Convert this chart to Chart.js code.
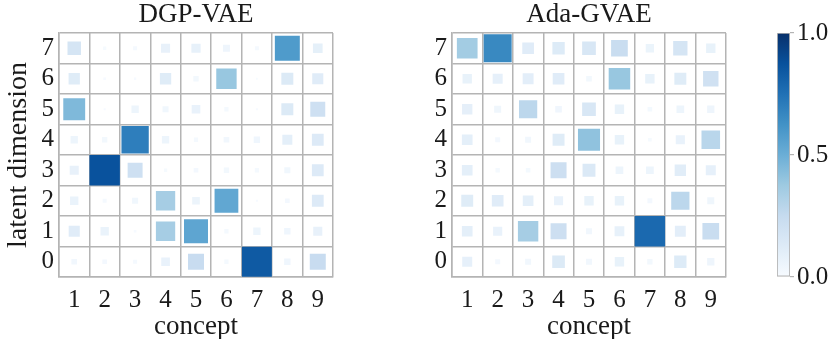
<!DOCTYPE html>
<html><head><meta charset="utf-8">
<script src="https://cdn.jsdelivr.net/npm/chart.js@4.4.1/dist/chart.umd.min.js"></script>
<style>
html,body{margin:0;padding:0;background:#fff;}
#wrap{position:relative;width:832px;height:339px;overflow:hidden;background:#fff;}
canvas{position:absolute;top:0;}
</style></head><body>
<div id="wrap">
<canvas id="c1" width="340" height="339" style="left:0px"></canvas>
<canvas id="c2" width="340" height="339" style="left:400px"></canvas>
<canvas id="c3" width="72" height="339" style="left:760px"></canvas>
</div>
<script>
// ---- data ----
const concepts = ['1','2','3','4','5','6','7','8','9'];
const latentDims = ['7','6','5','4','3','2','1','0'];
const panelTitles = ['DGP-VAE', 'Ada-GVAE'];
const xAxisLabel = 'concept';
const yAxisLabel = 'latent dimension';
const colorbarTicks = [0, 0.5, 1];

// rows: latent dimension 0..7, columns: concept 1..9
const dgpVae = [
  [0.030, 0.020, 0.015, 0.070, 0.240, 0.017, 0.840, 0.038, 0.240], // dim 0
  [0.115, 0.065, 0.007, 0.350, 0.540, 0.017, 0.050, 0.038, 0.077], // dim 1
  [0.065, 0.015, 0.034, 0.350, 0.055, 0.530, 0.004, 0.020, 0.130], // dim 2
  [0.077, 0.870, 0.210, 0.010, 0.020, 0.027, 0.017, 0.034, 0.130], // dim 3
  [0.050, 0.027, 0.700, 0.050, 0.017, 0.030, 0.038, 0.094, 0.130], // dim 4
  [0.450, 0.004, 0.050, 0.034, 0.070, 0.017, 0.004, 0.135, 0.210], // dim 5
  [0.120, 0.007, 0.005, 0.120, 0.027, 0.390, 0.003, 0.135, 0.115], // dim 6
  [0.170, 0.010, 0.015, 0.077, 0.080, 0.046, 0.015, 0.585, 0.088]  // dim 7
];
const adaGvae = [
  [0.084, 0.021, 0.030, 0.135, 0.030, 0.074, 0.024, 0.128, 0.045], // dim 0
  [0.096, 0.070, 0.350, 0.215, 0.030, 0.080, 0.780, 0.100, 0.235], // dim 1
  [0.120, 0.115, 0.096, 0.070, 0.074, 0.074, 0.020, 0.280, 0.041], // dim 2
  [0.096, 0.016, 0.018, 0.215, 0.140, 0.050, 0.050, 0.108, 0.084], // dim 3
  [0.096, 0.021, 0.030, 0.120, 0.410, 0.074, 0.011, 0.070, 0.290], // dim 4
  [0.090, 0.041, 0.280, 0.037, 0.158, 0.074, 0.018, 0.050, 0.045], // dim 5
  [0.074, 0.084, 0.100, 0.115, 0.027, 0.390, 0.074, 0.120, 0.200], // dim 6
  [0.360, 0.660, 0.115, 0.128, 0.158, 0.235, 0.058, 0.172, 0.074]  // dim 7
];

// ---- colormap (matplotlib Blues) ----
const bluesStops = ['#f7fbff','#deebf7','#c6dbef','#9ecae1','#6baed6','#4292c6','#2171b5','#08519c','#08306b'];
function hexToRgb(h){return [parseInt(h.slice(1,3),16),parseInt(h.slice(3,5),16),parseInt(h.slice(5,7),16)];}
const bluesRgb = bluesStops.map(hexToRgb);
function blues(v){
  v = Math.max(0, Math.min(1, v));
  const p = v * (bluesRgb.length - 1);
  const i = Math.min(Math.floor(p), bluesRgb.length - 2);
  const t = p - i;
  const a = bluesRgb[i], b = bluesRgb[i+1];
  return 'rgb(' + [0,1,2].map(k => Math.round(a[k] + (b[k]-a[k])*t)).join(',') + ')';
}

const FONT = '"Liberation Serif", "DejaVu Serif", serif';
const TXT = '#1a1a1a';
const GRID = '#b4b4b4';

function makePanel(canvasId, title, values, showYTitle, yWidth, padRight) {
  const points = [];
  let maxV = 0;
  values.forEach((row, d) => row.forEach((v, c) => {
    points.push({x: concepts[c], y: String(d), v: v});
    if (v > maxV) maxV = v;
  }));
  return new Chart(document.getElementById(canvasId), {
    type: 'scatter',
    data: { datasets: [{
      data: points,
      pointStyle: 'rect',
      borderWidth: 0,
      backgroundColor: ctx => ctx.raw ? blues(ctx.raw.v) : '#fff',
      pointRadius: ctx => {
        if (!ctx.raw) return 0;
        const xs = ctx.chart.scales.x;
        const cw = Math.abs(xs.getPixelForValue(1) - xs.getPixelForValue(0));
        return Math.sqrt(ctx.raw.v / maxV) * cw / Math.SQRT2;
      }
    }]},
    options: {
      responsive: false, animation: false, events: [],
      layout: { padding: { left: 0, right: padRight, top: 0, bottom: 0 } },
      plugins: {
        legend: { display: false }, tooltip: { enabled: false },
        title: { display: true, text: title, fullSize: false, color: TXT,
          font: { family: FONT, size: 27, weight: 'normal', lineHeight: 1 },
          padding: { top: 1, bottom: 5 } }
      },
      scales: {
        x: {
          type: 'category', labels: concepts, offset: true, position: 'bottom',
          grid: { offset: true, color: GRID, lineWidth: 1.5, drawTicks: false },
          border: { display: true, color: GRID, width: 1.5 },
          ticks: { color: TXT, padding: 8, font: { family: FONT, size: 25 }, maxRotation: 0, autoSkip: false },
          title: { display: true, text: xAxisLabel, color: TXT, padding: { top: 0, bottom: 0 },
            font: { family: FONT, size: 27, lineHeight: 0.9 } },
          afterFit: s => { s.height = 62; }
        },
        y: {
          type: 'category', labels: latentDims, offset: true, position: 'left',
          grid: { offset: true, color: GRID, lineWidth: 1.5, drawTicks: false },
          border: { display: true, color: GRID, width: 1.5 },
          ticks: { color: TXT, padding: 5, font: { family: FONT, size: 25 }, autoSkip: false },
          title: { display: showYTitle, text: yAxisLabel, color: TXT, padding: { top: 5, bottom: 0 },
            font: { family: FONT, size: 28, lineHeight: 1 } },
          afterFit: s => { s.width = yWidth; }
        }
      }
    }
  });
}

makePanel('c1', panelTitles[0], dgpVae, true, 59, 7);
makePanel('c2', panelTitles[1], adaGvae, false, 52, 14);

// ---- colorbar ----
new Chart(document.getElementById('c3'), {
  type: 'bar',
  data: { labels: ['cb'], datasets: [{
    data: [[colorbarTicks[0], colorbarTicks[colorbarTicks.length-1]]],
    barPercentage: 1, categoryPercentage: 1,
    borderColor: GRID, borderWidth: 1.2, borderSkipped: false,
    backgroundColor: ctx => {
      const ca = ctx.chart.chartArea;
      if (!ca) return '#ccc';
      const g = ctx.chart.ctx.createLinearGradient(0, ca.bottom, 0, ca.top);
      bluesStops.forEach((c, i) => g.addColorStop(i / (bluesStops.length - 1), c));
      return g;
    }
  }]},
  options: {
    responsive: false, animation: false, events: [],
    layout: { padding: { left: 17, right: 0, top: 33, bottom: 62 } },
    plugins: { legend: { display: false }, tooltip: { enabled: false } },
    scales: {
      x: { display: false },
      y: {
        position: 'right', min: 0, max: 1,
        afterBuildTicks: s => { s.ticks = colorbarTicks.map(v => ({ value: v })); },
        grid: { drawOnChartArea: false, drawTicks: true, tickLength: 4, color: GRID, lineWidth: 1.2 },
        border: { display: false },
        ticks: { color: TXT, padding: 3, font: { family: FONT, size: 25 },
          callback: v => Number(v).toFixed(1) },
        afterFit: s => { s.width = 42; }
      }
    }
  }
});
</script>
</body></html>
